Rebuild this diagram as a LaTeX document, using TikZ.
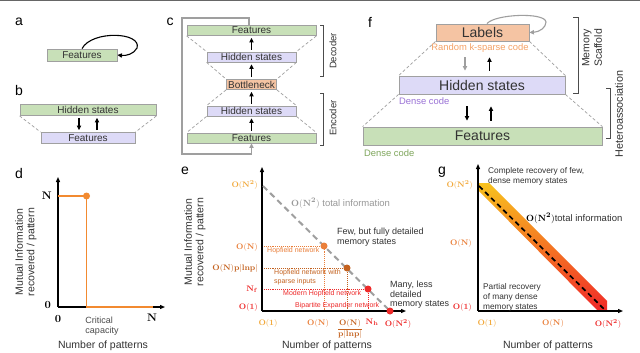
\documentclass[tikz,border=0pt]{standalone}
\usepackage{amsmath}
\usepackage[no-math]{fontspec}
\setmainfont{Liberation Sans}
\usetikzlibrary{arrows.meta}
\definecolor{bgreen}{HTML}{C8E0B8}
\definecolor{blav}{HTML}{DDDAF7}
\definecolor{bpeach}{HTML}{F5C4A3}
\definecolor{bord}{HTML}{A0A0A0}
\definecolor{cyel}{HTML}{F2A93B}
\definecolor{corg}{HTML}{EA7F3A}
\definecolor{cbrn}{HTML}{C4621F}
\definecolor{cred}{HTML}{EE2A2A}
\definecolor{dorange}{HTML}{F28A30}
\definecolor{txt}{HTML}{333333}
\definecolor{ksparse}{HTML}{F5A266}
\definecolor{dpurple}{HTML}{9A72D6}
\definecolor{dgreen}{HTML}{7FA65C}
\definecolor{bandy}{HTML}{F8C21E}
\definecolor{bando}{HTML}{F4832E}
\definecolor{bandr}{HTML}{F02828}
\tikzset{
 box/.style={draw=bord, line width=0.8pt, inner sep=0pt, text=txt, font=\fontsize{10}{12}\selectfont},
 gbox/.style={box, fill=bgreen},
 lbox/.style={box, fill=blav},
 pbox/.style={box, fill=bpeach},
 bigbox/.style={font=\fontsize{14}{16}\selectfont},
 arr/.style={-{Triangle[length=4.5pt,width=4.2pt]}, line width=1.1pt, draw=black},
 garr/.style={-{Triangle[length=4.5pt,width=4.2pt]}, line width=1.1pt, draw=gray!75},
 dsh/.style={draw=gray!75, line width=0.7pt, dash pattern=on 3pt off 2.2pt},
 brk/.style={draw=gray!60!black, line width=0.7pt},
 plabel/.style={font=\fontsize{14}{16}\selectfont, text=black, inner sep=0pt},
 axisl/.style={line width=1.1pt, -{Triangle[length=5pt,width=4pt]}},
 mlab/.style={font=\fontsize{8.5}{10}\selectfont, inner sep=0pt},
 ann/.style={font=\fontsize{8.5}{9.6}\selectfont, text=txt, align=left, inner sep=0pt},
 tinyl/.style={font=\fontsize{7}{9}\selectfont, inner sep=0pt, align=left},
 xlab/.style={font=\fontsize{10.5}{12}\selectfont, text=txt},
 ylab/.style={font=\fontsize{10.5}{11.5}\selectfont, text=txt, rotate=90, align=center},
 pdot/.style={circle, inner sep=0pt, minimum size=7pt},
 dots/.style={densely dotted, line width=0.9pt},
}
\begin{document}
\begin{tikzpicture}[x=1pt,y=-1pt]
\useasboundingbox (0,0) rectangle (640,353);
\fill[white] (0,0) rectangle (640,353);
\draw[gray!80!black, line width=1.2pt] (0,0.6) -- (640,0.6);

% panel labels
\node[plabel] (la) at (19,22) {a};
\node[plabel] (lb) at (19,90) {b};
\node[plabel] (lc) at (170,22) {c};
\node[plabel] (ld) at (19,173) {d};
\node[plabel] (le) at (185,171) {e};
\node[plabel] (lf) at (370,22) {f};
\node[plabel] (lg) at (442,172) {g};

% ---------- a
\node[gbox, minimum width=70pt, minimum height=12pt] (af) at (82,55) {Features};
\draw[arr] (af.north) .. controls (92,30) and (142,32) .. (137,48) .. controls (134,54) and (126,56) .. (af.east);

% ---------- b
\node[gbox, minimum width=136pt, minimum height=11pt] (bh) at (88,110) {Hidden states};
\node[lbox, minimum width=94pt, minimum height=11pt] (bf) at (88,138) {Features};
\draw[dsh] (bh.south west) -- (bf.north west);
\draw[dsh] (bh.south east) -- (bf.north east);
\draw[arr, shorten <=2pt, shorten >=2pt] ([xshift=-9pt]bh.south) -- ([xshift=-9pt]bf.north);
\draw[arr, shorten <=2pt, shorten >=2pt] ([xshift=9pt]bf.north) -- ([xshift=9pt]bh.south);

% ---------- c
\node[gbox, minimum width=129pt, minimum height=10pt] (cf2) at (251.5,30.5) {Features};
\node[lbox, minimum width=89pt, minimum height=10pt] (ch2) at (251.5,57) {Hidden states};
\node[pbox, minimum width=50pt, minimum height=10pt] (cb) at (251.5,84.5) {Bottleneck};
\node[lbox, minimum width=89pt, minimum height=10pt] (ch1) at (251.5,111) {Hidden states};
\node[gbox, minimum width=129pt, minimum height=10pt] (cf1) at (251.5,138) {Features};
\foreach \a/\b in {cf1/ch1, ch1/cb, cb/ch2, ch2/cf2}{
  \draw[arr, shorten <=2pt, shorten >=2pt] (\a.north) -- (\b.south);
}
\foreach \a/\b in {cf2/ch2, ch2/cb, cb/ch1, ch1/cf1}{
  \draw[dsh] (\a.south west) -- (\b.north west);
  \draw[dsh] (\a.south east) -- (\b.north east);
}
\coordinate (ctop) at (182,18);
\coordinate (cbot) at (182,154);
\draw[garr] ([xshift=-2.5pt]cf2.north) |- (ctop) -- (cbot) -| (cf1.south);
\draw[brk] (320,25) -- (323,25) -- (323,76) -- (320,76);
\node[rotate=90, font=\fontsize{9.5}{11}\selectfont, text=txt] (cdec) at (333,51) {Decoder};
\draw[brk] (320,93) -- (323,93) -- (323,145) -- (320,145);
\node[rotate=90, font=\fontsize{9.5}{11}\selectfont, text=txt] (cenc) at (333,118) {Encoder};

% ---------- f
\node[pbox, bigbox, minimum width=93pt, minimum height=17pt] (flab) at (482.5,32.5) {Labels};
\node[lbox, bigbox, minimum width=166pt, minimum height=18pt] (fhid) at (482,85) {Hidden states};
\node[gbox, bigbox, minimum width=239pt, minimum height=18pt] (ffeat) at (482.5,136) {Features};
\node[text=ksparse, font=\fontsize{9.4}{11}\selectfont, inner sep=0pt] (fks) at (480,48) {Random k-sparse code};
\node[text=dpurple, font=\fontsize{9.4}{11}\selectfont, anchor=west, inner sep=0pt] (fd1) at (399,101) {Dense code};
\node[text=dgreen, font=\fontsize{9.4}{11}\selectfont, anchor=west, inner sep=0pt] (fd2) at (364,153) {Dense code};
\draw[garr] ([xshift=4.5pt]flab.north) .. controls (495,14) and (545,12) .. (546,22) .. controls (546,28) and (539,32) .. (flab.east);
\draw[dsh] (flab.south west) -- (fhid.north west);
\draw[dsh] (flab.south east) -- (fhid.north east);
\draw[dsh] (fhid.south west) -- (ffeat.north west);
\draw[dsh] (fhid.south east) -- (ffeat.north east);
\draw[garr, shorten <=16pt, shorten >=5pt] ([xshift=-17.5pt]flab.south) -- ([xshift=-17pt]fhid.north);
\draw[arr, shorten <=5pt, shorten >=16pt] ([xshift=7.5pt]fhid.north) -- ([xshift=7pt]flab.south);
\draw[arr, shorten <=12pt, shorten >=6pt] ([xshift=-15pt]fhid.south) -- ([xshift=-15.5pt]ffeat.north);
\draw[arr, shorten <=6pt, shorten >=12pt] ([xshift=8.5pt]ffeat.north) -- ([xshift=9pt]fhid.south);
\draw[brk] (573,17) -- (578,17) -- (578,93) -- (573,93);
\node[rotate=90, align=center, font=\fontsize{10.5}{12.5}\selectfont, text=txt] (fms) at (592,48) {Memory\\Scaffold};
\draw[brk] (606,88) -- (610,88) -- (610,138) -- (606,138);
\node[rotate=90, font=\fontsize{10.8}{12}\selectfont, text=txt] (fha) at (619,114) {Heteroassociation};

% ---------- d
\coordinate (d0) at (58,307);
\draw[axisl] (d0) -- (58,177);
\draw[axisl] (d0) -- (165,307);
\coordinate (dp) at (86.5,196);
\draw[dorange, line width=1.8pt] (dp -| d0) -- (dp) -- (dp |- d0) -- (153,307);
\node[pdot, fill=dorange] (ddot) at (dp) {};
\node[font=\fontsize{10.5}{12}\selectfont, anchor=east, inner sep=0pt] (dyn) at (52,196) {$\mathbf{N}$};
\node[font=\fontsize{10.5}{12}\selectfont, anchor=east, inner sep=0pt] (dy0) at (51,305) {$\mathbf{0}$};
\node[font=\fontsize{10.5}{12}\selectfont, inner sep=0pt] (dx0) at (58,319) {$\mathbf{0}$};
\node[font=\fontsize{10.5}{12}\selectfont, inner sep=0pt] (dxn) at (152,318) {$\mathbf{N}$};
\node[font=\fontsize{9}{10.5}\selectfont, text=gray!60!black, align=left, inner sep=0pt] (dcc) at (102,326) {Critical\\capacity};
\node[xlab] (dxl) at (103,346) {Number of patterns};
\node[ylab] (dyl) at (26,252) {Mutual Information\\recovered / pattern};

% ---------- e
\coordinate (e0) at (262,311);
\coordinate (et) at (263,186);
\coordinate (p1) at (324,246);
\coordinate (p2) at (347,268);
\coordinate (p3) at (368,289);
\coordinate (p4) at (390,311);
\draw[dots, draw=corg] (p1 -| e0) -- (p1) -- (p1 |- e0);
\draw[dots, draw=cbrn] (p2 -| e0) -- (p2) -- (p2 |- e0);
\draw[dots, draw=cred] (p3 -| e0) -- (p3) -- (p3 |- e0);
\draw[axisl] (e0) -- (262,167);
\draw[axisl] (e0) -- (406,311);
\draw[line width=2pt, draw=gray!75, dash pattern=on 6pt off 4pt] (et) -- (p4);
\node[pdot, fill=corg] (d1) at (p1) {};
\node[pdot, fill=cbrn] (d2) at (p2) {};
\node[pdot, fill=cred] (d3) at (p3) {};
\node[pdot, fill=cred] (d4) at (p4) {};
\node[mlab, anchor=east, text=cyel] (ey1) at (258,185) {$\mathbf{O(N^2)}$};
\node[mlab, anchor=east, text=corg] (ey2) at (258,247) {$\mathbf{O(N)}$};
\node[mlab, anchor=east, text=cbrn] (ey3) at (258,268) {$\mathbf{O(N)p|lnp|}$};
\node[mlab, anchor=east, text=cred] (ey4) at (258,289) {$\mathbf{N_f}$};
\node[mlab, anchor=east, text=cred] (ey5) at (258,307) {$\mathbf{O(1)}$};
\node[mlab, text=cyel] (ex1) at (268,323) {$\mathbf{O(1)}$};
\node[mlab, text=corg] (ex2) at (318,323) {$\mathbf{O(N)}$};
\node[mlab, text=cbrn] (ex3) at (350,329) {$\dfrac{\mathbf{O(N)}}{\mathbf{p|lnp|}}$};
\node[mlab, text=cred] (ex4) at (372,322) {$\mathbf{N_h}$};
\node[mlab, text=cred] (ex5) at (398,324) {$\mathbf{O(N^2)}$};
\node[tinyl, text=corg, anchor=west] (eh1) at (267,251) {Hopfield network};
\node[tinyl, text=cbrn, anchor=west] (eh2) at (274,277) {Hopfield network with\\sparse inputs};
\node[tinyl, text=cred, anchor=west] (eh3) at (283,294) {Modern Hopfield network};
\node[tinyl, text=cred, anchor=west] (eh4) at (295,306) {Bipartite Expander network};
\node[font=\fontsize{9.5}{11}\selectfont, text=gray!80, anchor=west, inner sep=0pt] (eti) at (291,203) {$\mathbf{O(N^2)}$ total information};
\node[ann, font=\fontsize{9}{9.6}\selectfont, anchor=west] (efew) at (337,237) {Few, but fully detailed\\memory states};
\node[ann, font=\fontsize{9}{9.6}\selectfont, anchor=west] (emany) at (390,295) {Many, less\\detailed\\memory states};
\node[xlab] (exl) at (327,346) {Number of patterns};
\node[ylab] (eyl) at (195,242) {Mutual Information\\recovered / pattern};

% ---------- g
\coordinate (g0) at (478,311);
\shade[top color=bandy, middle color=bando, bottom color=bandr] (478,190) -- (478,183) -- (489,183) -- (607,301) -- (607,311) -- (598,311) -- cycle;
\coordinate (gt) at (479,186);
\coordinate (gb) at (606,311);
\draw[line width=1.7pt, dash pattern=on 5pt off 3.5pt] (gt) -- (gb);
\draw[axisl] (g0) -- (478,164);
\draw[axisl] (g0) -- (623,311);
\node[mlab, anchor=east, text=cyel] (gy1) at (473,185) {$\mathbf{O(N^2)}$};
\node[mlab, anchor=east, text=corg] (gy2) at (472,243) {$\mathbf{O(N)}$};
\node[mlab, anchor=east, text=cred] (gy3) at (472,307) {$\mathbf{O(1)}$};
\node[mlab, text=cyel] (gx1) at (487,323) {$\mathbf{O(1)}$};
\node[mlab, text=corg] (gx2) at (553,323) {$\mathbf{O(N)}$};
\node[mlab, text=cred] (gx3) at (608,324) {$\mathbf{O(N^2)}$};
\node[ann, font=\fontsize{8.3}{9.8}\selectfont, anchor=west] (gcom) at (488,176) {Complete recovery of few,\\dense memory states};
\node[ann, font=\fontsize{8.3}{10}\selectfont, anchor=west] (gpar) at (483,297) {Partial recovery\\of many dense\\memory states};
\node[font=\fontsize{9.5}{11}\selectfont, anchor=west, inner sep=0pt] (gti) at (526,218) {$\mathbf{O(N^2)}$\textcolor{txt}{total information}};
\node[xlab] (gxl) at (548,346) {Number of patterns};
\end{tikzpicture}
\end{document}
